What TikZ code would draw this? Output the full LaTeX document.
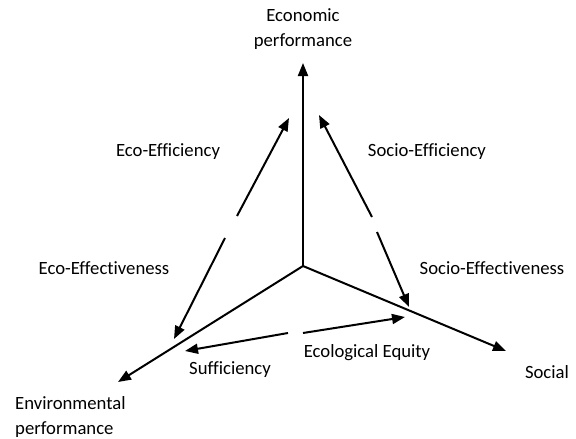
\documentclass[tikz,border=0pt]{standalone}
\usepackage{fontspec}
\setmainfont{Carlito}[Ligatures=NoCommon]
\usetikzlibrary{arrows.meta}
\begin{document}
\begin{tikzpicture}[x=1pt,y=-1pt,
  axis/.style={line width=2pt,-{Triangle[length=13pt,width=10pt]}},
  lbl/.style={font=\fontsize{18.7}{25}\selectfont,inner sep=0pt}]
\useasboundingbox (0,0) rectangle (576,439);
% axes
\coordinate (O) at (303,266);
\coordinate (Etop) at (303,63);
\coordinate (Env) at (118,382);
\coordinate (Soc) at (506,351);
\draw[axis] (O) -- (Etop);
\draw[axis] (O) -- (Env);
\draw[axis] (O) -- (Soc);
% eco arrow
\coordinate (ea1) at (237,216);
\coordinate (ea2) at (289,118);
\coordinate (eb1) at (225,238);
\coordinate (eb2) at (174,339);
\draw[axis] (ea1) -- (ea2);
\draw[axis] (eb1) -- (eb2);
% socio arrow
\coordinate (sa1) at (372,217);
\coordinate (sa2) at (319,115);
\coordinate (sb1) at (377,232);
\coordinate (sb2) at (409,307);
\draw[axis] (sa1) -- (sa2);
\draw[axis] (sb1) -- (sb2);
% ecological equity arrow
\coordinate (qa1) at (303,333);
\coordinate (qa2) at (405,317);
\coordinate (qb1) at (288,333);
\coordinate (qb2) at (185,351);
\draw[axis] (qa1) -- (qa2);
\draw[axis] (qb1) -- (qb2);
% labels
\node[lbl,align=center] (econ) at (303,29.5) {Economic\\performance};
\node[lbl] (effi) at (168,152) {Eco-Efficiency};
\node[lbl] (seffi) at (427,152) {Socio-Efficiency};
\node[lbl] (effe) at (104,268) {Eco-Effectiveness};
\node[lbl] (seffe) at (492,268) {Socio-Effectiveness};
\node[lbl] (equity) at (367,353) {Ecological Equity};
\node[lbl] (suff) at (230,370) {Sufficiency};
\node[lbl] (social) at (547,372) {Social};
\node[lbl,align=left,anchor=west] (env) at (15,417.5) {Environmental\\performance};
\end{tikzpicture}
\end{document}
